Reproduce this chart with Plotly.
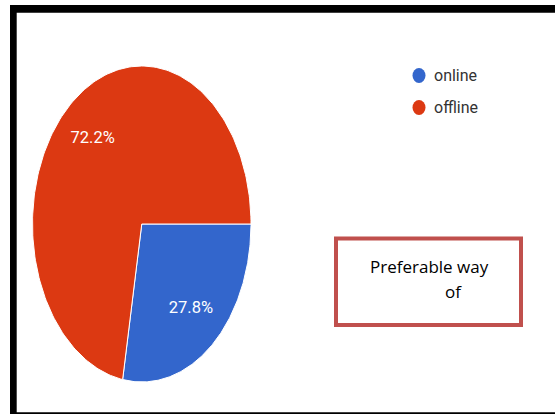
import numpy as np
import plotly.graph_objects as go

# Survey result: preferred way (online vs offline)
categories = ["online", "offline"]
shares = [27.8, 72.2]
colors = ["#3366cc", "#dc3912"]
box_lines = ["Preferable way", "of"]

W, H = 555, 414
START_DEG = 90  # first slice begins at 3 o'clock, slices run clockwise

# pie occupies this pixel box (drawn stretched, as an ellipse)
PIE_L, PIE_R, PIE_T, PIE_B = 32.5, 251.0, 66.0, 382.0
LABEL_FONT = "Roboto, Liberation Sans Narrow, DejaVu Sans Condensed"


def px_x(v):
    return v / W


def px_y(v):
    return 1 - v / H


fig = go.Figure()

total = sum(shares)
angle = START_DEG
for name, val, col in zip(categories, shares, colors):
    span = val / total * 360.0
    th = np.radians(np.linspace(angle, angle + span, 200))
    xs = np.concatenate([[0.0], np.sin(th), [0.0]])
    ys = np.concatenate([[0.0], np.cos(th), [0.0]])
    fig.add_trace(go.Scatter(
        x=xs, y=ys, mode="lines", fill="toself", fillcolor=col,
        line=dict(color="white", width=1), name=name, showlegend=False,
        hoverinfo="skip",
    ))
    mid = np.radians(angle + span / 2)
    fig.add_trace(go.Scatter(
        x=[0.7 * np.sin(mid)], y=[0.7 * np.cos(mid)], mode="text",
        text=[f"{val:.1f}%"], showlegend=False, hoverinfo="skip",
        textfont=dict(family=LABEL_FONT, size=16.5, color="white"),
    ))
    angle += span

shapes = []
annotations = []

# legend: coloured dots with labels
for i, (name, col) in enumerate(zip(categories, colors)):
    cy = 75.5 + i * 32
    shapes.append(dict(type="circle", xref="paper", yref="paper",
                       x0=px_x(412.5), x1=px_x(425.5), y0=px_y(cy - 7.5), y1=px_y(cy + 7.5),
                       fillcolor=col, line=dict(width=0)))
    annotations.append(dict(x=px_x(431.5), y=px_y(cy), xref="paper", yref="paper",
                            text=name, showarrow=False, xanchor="left", yanchor="middle",
                            font=dict(family=LABEL_FONT, size=16, color="#333333")))

# caption box
shapes.append(dict(type="rect", xref="paper", yref="paper",
                   x0=px_x(336), x1=px_x(521), y0=px_y(325), y1=px_y(238.5),
                   fillcolor="white", line=dict(color="#c0504d", width=4)))
annotations.append(dict(x=px_x(429), y=px_y(266), xref="paper", yref="paper",
                        text=box_lines[0], showarrow=False, xanchor="center", yanchor="middle",
                        font=dict(family="Open Sans, Noto Sans", size=17, color="black")))
annotations.append(dict(x=px_x(453), y=px_y(291), xref="paper", yref="paper",
                        text=box_lines[1], showarrow=False, xanchor="center", yanchor="middle",
                        font=dict(family="Open Sans, Noto Sans", size=17, color="black")))

# black frame: top bar, left bar, bottom line
shapes.append(dict(type="rect", xref="paper", yref="paper", x0=px_x(10), x1=1,
                   y0=px_y(12.7), y1=px_y(5), fillcolor="black", line=dict(width=0)))
shapes.append(dict(type="rect", xref="paper", yref="paper", x0=px_x(10), x1=px_x(16.7),
                   y0=0, y1=px_y(5), fillcolor="black", line=dict(width=0)))
shapes.append(dict(type="rect", xref="paper", yref="paper", x0=px_x(10), x1=1,
                   y0=0, y1=px_y(412.3), fillcolor="black", line=dict(width=0)))

fig.update_layout(
    width=W, height=H, margin=dict(l=0, r=0, t=0, b=0),
    paper_bgcolor="white", plot_bgcolor="rgba(0,0,0,0)",
    xaxis=dict(domain=[px_x(PIE_L), px_x(PIE_R)], range=[-1, 1], visible=False, fixedrange=True),
    yaxis=dict(domain=[px_y(PIE_B), px_y(PIE_T)], range=[-1, 1], visible=False, fixedrange=True),
    shapes=shapes, annotations=annotations, showlegend=False,
)

fig.write_html("out.html")
